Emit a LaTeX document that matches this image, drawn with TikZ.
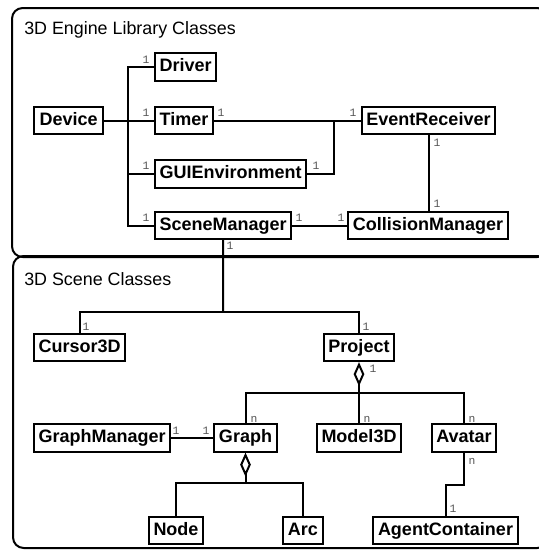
\documentclass[tikz,border=0pt]{standalone}
\usepackage{fontspec}
\setmainfont{Liberation Sans}
\newfontfamily\multfont{Liberation Mono}
\usetikzlibrary{arrows.meta, positioning, calc}
\definecolor{MultGray}{RGB}{85,85,85}

\begin{document}
\begin{tikzpicture}[x=0.75pt, y=-0.75pt,
  cls/.style={draw, fill=white, line width=1.5pt, inner xsep=3.5pt, inner ysep=0pt,
              minimum height=20.5pt, text height=10pt, text depth=3pt,
              font=\fontsize{13.5}{16}\selectfont\bfseries},
  pkg/.style={draw, line width=1.5pt, rounded corners=8pt},
  pkgtitle/.style={anchor=west, inner sep=0pt, font=\fontsize{13.4}{16}\selectfont},
  lnk/.style={line width=1.5pt},
  agg/.style={line width=1.5pt, {Diamond[open, length=18pt, width=8pt]}-},
  mult/.style={inner sep=0pt, text=MultGray, font=\multfont\fontsize{8.5}{9}\selectfont},
]
\useasboundingbox (0,0) rectangle (539,550);
\clip (0,0) rectangle (539,550);

% packages
\draw[pkg] (12,8) rectangle (548,257);
\draw[pkg] (13,256) rectangle (548,548);
\node[pkgtitle] (engTitle) at (24,30) {3D Engine Library Classes};
\node[pkgtitle] (sceneTitle) at (24,279) {3D Scene Classes};

% engine classes
\node[cls, anchor=west, minimum width=52pt] (Device) at (33,120.5) {Device};
\node[cls, anchor=west] (Driver) at (154,67) {Driver};
\node[cls, anchor=west] (Timer) at (154,120.5) {Timer};
\node[cls, anchor=west] (GUIEnvironment) at (154,174) {GUIEnvironment};
\node[cls, anchor=west] (SceneManager) at (154,225.5) {SceneManager};
\node[cls] (EventReceiver) at (428.5,120.5) {EventReceiver};
\node[cls] (CollisionManager) at (428,225.5) {CollisionManager};

% scene classes
\node[cls, anchor=west] (Cursor3D) at (33,347.5) {Cursor3D};
\node[cls] (Project) at (359,347.5) {Project};
\node[cls, anchor=west] (GraphManager) at (33,438) {GraphManager};
\node[cls] (Graph) at (245.5,438) {Graph};
\node[cls] (Model3D) at (359,438) {Model3D};
\node[cls] (Avatar) at (464,438) {Avatar};
\node[cls] (Node) at (176,530.5) {Node};
\node[cls] (Arc) at (303,530.5) {Arc};
\node[cls] (AgentContainer) at (445.5,530.5) {AgentContainer};

% associations
\draw[lnk] (Device.east) -- (Timer.west);
\draw[lnk] (Driver.west) -- ++(-26,0) |- (SceneManager.west);
\draw[lnk] (GUIEnvironment.west) -- ++(-26,0);
\coordinate (evJ) at (334,120.5);
\draw[lnk] (Timer.east) -- (EventReceiver.west);
\draw[lnk] (GUIEnvironment.east) -| (evJ);
\draw[lnk] (EventReceiver.south) -- (EventReceiver.south |- CollisionManager.north);
\draw[lnk] (SceneManager.east) -- (CollisionManager.west);
\coordinate (sceneJ) at (223,312);
\draw[lnk] (SceneManager.south) -- (sceneJ);
\draw[lnk] (Cursor3D.north) |- (sceneJ) -| (Project.north);
\coordinate (projJ) at (359,393);
\draw[agg] (Project.south) -- (projJ);
\draw[lnk] (Graph.north) |- (projJ) -| (Avatar.north);
\draw[lnk] (projJ) -- (Model3D.north);
\draw[lnk] (GraphManager.east) -- (Graph.west);
\coordinate (graphJ) at (245.5,483);
\draw[agg] (Graph.south) -- (graphJ);
\draw[lnk] (Node.north) |- (graphJ) -| (Arc.north);
\draw[lnk] (Avatar.south) -- ++(0,32) -| (AgentContainer.north);

% multiplicities
\node[mult] (mDriver) at (146,60) {1};
\node[mult] (mTimerL) at (146,113) {1};
\node[mult] (mGuiL) at (146,166) {1};
\node[mult] (mSceneL) at (146,218) {1};
\node[mult] (mTimerR) at (221,113) {1};
\node[mult] (mEventL) at (353,113) {1};
\node[mult] (mGuiR) at (316,166) {1};
\node[mult] (mEventB) at (437,143) {1};
\node[mult] (mCollT) at (437,204) {1};
\node[mult] (mSceneR) at (299,218) {1};
\node[mult] (mCollL) at (341,218) {1};
\node[mult] (mSceneB) at (230,246) {1};
\node[mult] (mCursor) at (86,327) {1};
\node[mult] (mProjT) at (366,327) {1};
\node[mult] (mProjB) at (373,369) {1};
\node[mult] (mGraphT) at (254,419) {n};
\node[mult] (mModel) at (367,419) {n};
\node[mult] (mAvatarT) at (472,419) {n};
\node[mult] (mAvatarB) at (472,461) {n};
\node[mult] (mAgent) at (453,509) {1};
\node[mult] (mGMgr) at (176,431) {1};
\node[mult] (mGraphL) at (206,431) {1};
\end{tikzpicture}
\end{document}
